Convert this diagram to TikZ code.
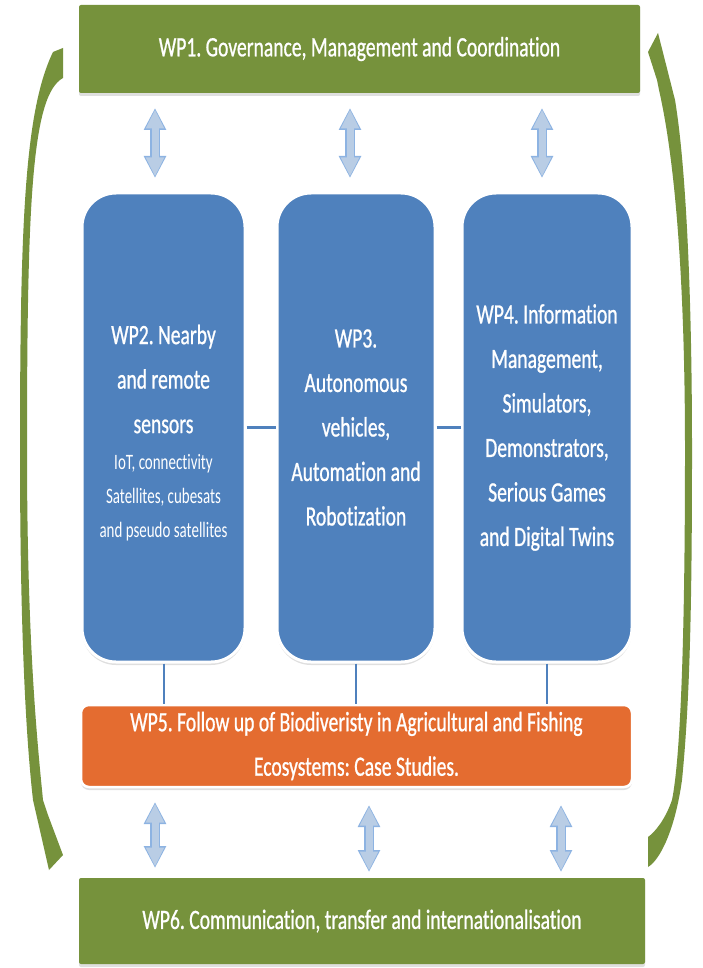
\documentclass[tikz,border=0pt]{standalone}
\usepackage{fontspec}
\setmainfont[FakeStretch=0.7,FakeBold=0.8,Ligatures=NoCommon]{Carlito}
\newfontfamily\lightcf[FakeStretch=0.68,Ligatures=NoCommon]{Carlito}
\usetikzlibrary{arrows.meta,shadows}
\definecolor{wpgreen}{RGB}{118,146,60}
\definecolor{wpblue}{RGB}{79,129,189}
\definecolor{wporange}{RGB}{228,108,48}
\definecolor{arrfill}{RGB}{185,205,229}
\definecolor{arredge}{RGB}{141,179,226}
\begin{document}
\frenchspacing
\begin{tikzpicture}[x=1pt,y=-1pt,
  boxshadow/.style={drop shadow={opacity=0.25,shadow xshift=0pt,shadow yshift=-3pt}},
  bigtext/.style={font=\fontsize{28}{44.5}\selectfont,text=white,align=center},
  smalltext/.style={font=\lightcf\fontsize{22}{34}\selectfont,text=white,align=center},
  greenbox/.style={rectangle,rounded corners=2pt,fill=wpgreen,boxshadow,inner sep=0pt,bigtext},
  bluebox/.style={rectangle,rounded corners=34pt,fill=wpblue,draw=white,line width=3pt,minimum height=469pt,boxshadow,inner sep=0pt,bigtext},
  orangebox/.style={rectangle,rounded corners=8pt,fill=wporange,draw=white,line width=2.5pt,boxshadow,inner sep=0pt,bigtext},
  link/.style={draw=wpblue,line width=3.5pt},
  vlink/.style={draw=wpblue,line width=2pt},
  dblout/.style={draw=arredge,line width=9.5pt,{Triangle[width=21pt,length=22pt]}-{Triangle[width=21pt,length=22pt]}},
  dblin/.style={draw=arrfill,line width=7pt,{Triangle[width=17pt,length=19pt]}-{Triangle[width=17pt,length=19pt]},shorten >=1.5pt,shorten <=1.5pt},
  cycarrow/.style={fill=wpgreen}
]
\useasboundingbox (0,0) rectangle (702,968);
\fill[white] (0,0) rectangle (702,968);

% curved cycle arrows
\fill[cycarrow] (63,48) -- (63,78) .. controls (32,95) and (27,200) .. (27,450)
  .. controls (27,640) and (37,740) .. (43,800) -- (48,815) -- (63,855) -- (49,870) -- (33,800)
  .. controls (24,720) and (20,600) .. (20,450) .. controls (20,220) and (25,110) .. (53,52) -- cycle;
\fill[cycarrow] (658,33) -- (675,100) .. controls (685,160) and (692,280) .. (692,450)
  .. controls (692,600) and (690,700) .. (682,780) .. controls (675,830) and (660,860) .. (648,867)
  -- (648,837) .. controls (655,832) and (665,820) .. (672,800)
  .. controls (680,760) and (685,650) .. (685,450) .. controls (685,280) and (675,160) .. (659,90)
  -- (657,80) -- (648,52) -- cycle;

% boxes
\node[greenbox,minimum width=561pt,minimum height=88pt] (wp1) at (359.5,49) {\raisebox{-3pt}{WP1. Governance, Management and Coordination}};
\node[bluebox,minimum width=163pt] (wp2) at (163.5,427.5) {};
\node[bluebox,minimum width=158pt] (wp3) at (356,427.5) {WP3.\\Autonomous\\vehicles,\\Automation and\\Robotization};
\node[bluebox,minimum width=170pt] (wp4) at (547,427.5) {WP4. Information\\Management,\\Simulators,\\Demonstrators,\\Serious Games\\and Digital Twins};
\node[bigtext,inner sep=0pt] (wp2t) at (163.5,379) {WP2. Nearby\\and remote\\sensors};
\node[smalltext,inner sep=0pt] (wp2s) at (163.5,498) {IoT, connectivity\\Satellites, cubesats\\and pseudo satellites};
\node[orangebox,minimum width=551pt,minimum height=82pt] (wp5) at (356.5,746) {WP5. Follow up of Biodiveristy in Agricultural and Fishing\\Ecosystems: Case Studies.};
\node[greenbox,minimum width=566pt,minimum height=86pt] (wp6) at (362,921) {WP6. Communication, transfer and internationalisation};

% links
\draw[link] (wp2.east) -- (wp3.west);
\draw[link] (wp3.west -| wp3.east) -- (wp4.west);
\draw[vlink] (wp2.south) -- (wp2.south |- wp5.north);
\draw[vlink] (wp3.south) -- (wp3.south |- wp5.north);
\draw[vlink] (wp4.south) -- (wp4.south |- wp5.north);

% double arrows
\coordinate (a1t) at (155,108); \coordinate (a1b) at (155,178);
\coordinate (a2t) at (350,108); \coordinate (a2b) at (350,178);
\coordinate (a3t) at (542,108); \coordinate (a3b) at (542,178);
\coordinate (b1t) at (155,802); \coordinate (b1b) at (155,868);
\coordinate (b2t) at (369,805); \coordinate (b2b) at (369,872);
\coordinate (b3t) at (561,805); \coordinate (b3b) at (561,872);
\foreach \p in {a1,a2,a3,b1,b2,b3}{
  \draw[dblout] (\p t) -- (\p b);
  \draw[dblin] (\p t) -- (\p b);
}
\end{tikzpicture}
\end{document}
